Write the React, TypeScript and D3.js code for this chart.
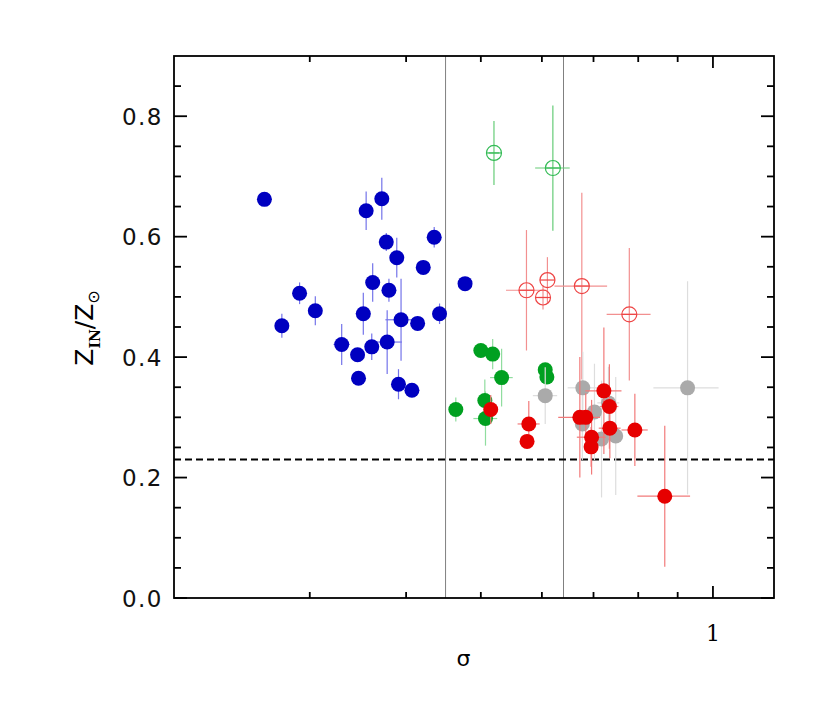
import React, { useEffect, useRef } from 'react';
import * as d3 from 'd3';

interface IPoint {
  sigma: number;
  z: number;
  zErr: number;
  sErr: number;
}

// [sigma, Z, zErr, sigmaErr]
const bluePoints = [
  [0.262, 0.662, 0.005, 0],
  [0.355, 0.643, 0.032, 0],
  [0.372, 0.663, 0.035, 0],
  [0.377, 0.591, 0.015, 0],
  [0.389, 0.565, 0.033, 0],
  [0.435, 0.599, 0.017, 0],
  [0.421, 0.549, 0.005, 0],
  [0.477, 0.522, 0.005, 0],
  [0.362, 0.524, 0.032, 0],
  [0.38, 0.511, 0.019, 0],
  [0.291, 0.506, 0.018, 0],
  [0.305, 0.477, 0.024, 0],
  [0.276, 0.452, 0.02, 0],
  [0.352, 0.472, 0.035, 0.008],
  [0.394, 0.462, 0.068, 0.018],
  [0.414, 0.456, 0.005, 0],
  [0.442, 0.472, 0.017, 0],
  [0.378, 0.425, 0.053, 0.017],
  [0.33, 0.421, 0.034, 0.008],
  [0.346, 0.404, 0.005, 0],
  [0.361, 0.417, 0.022, 0],
  [0.347, 0.365, 0.005, 0],
  [0.391, 0.355, 0.025, 0],
  [0.407, 0.345, 0.005, 0],
];

const greenPoints = [
  [0.5, 0.411, 0, 0],
  [0.518, 0.405, 0.025, 0],
  [0.532, 0.366, 0.048, 0.018],
  [0.606, 0.379, 0, 0],
  [0.609, 0.367, 0, 0],
  [0.464, 0.313, 0.02, 0],
  [0.506, 0.328, 0.035, 0],
  [0.507, 0.298, 0.045, 0.018],
];

const greenOpen = [
  [0.52, 0.739, 0.053, 0.008],
  [0.62, 0.714, 0.104, 0.032],
];

const redOpen = [
  [0.573, 0.511, 0.1, 0.034],
  [0.61, 0.528, 0.038, 0],
  [0.602, 0.499, 0.02, 0.008],
  [0.676, 0.518, 0.155, 0.053],
  [0.779, 0.471, 0.11, 0.051],
];

const grayPoints = [
  [0.606, 0.336, 0.047, 0.022],
  [0.678, 0.349, 0.06, 0.03],
  [0.927, 0.349, 0.177, 0.09],
  [0.702, 0.309, 0.08, 0],
  [0.732, 0.324, 0.06, 0.024],
  [0.677, 0.289, 0.06, 0],
  [0.717, 0.264, 0.097, 0],
  [0.748, 0.269, 0.098, 0],
];

const redPoints = [
  [0.515, 0.313, 0.024, 0],
  [0.577, 0.289, 0.038, 0.019],
  [0.574, 0.26, 0.01, 0],
  [0.722, 0.344, 0.105, 0.039],
  [0.734, 0.318, 0.07, 0.02],
  [0.672, 0.3, 0.1, 0.042],
  [0.684, 0.3, 0.04, 0],
  [0.735, 0.282, 0.05, 0.024],
  [0.792, 0.279, 0.06, 0.031],
  [0.696, 0.267, 0.062, 0.03],
  [0.695, 0.251, 0.033, 0],
  [0.866, 0.169, 0.117, 0.068],
];

const xMinorTicks = [0.3, 0.4, 0.5, 0.6, 0.7, 0.8, 0.9];
const xMajorTicks = [1];
const yMajorTicks = [0, 0.2, 0.4, 0.6, 0.8];
const yMinorTicks = [0.05, 0.1, 0.15, 0.25, 0.3, 0.35, 0.45, 0.5, 0.55, 0.65, 0.7, 0.75, 0.85];
const sigmaCuts = [0.45, 0.64];
const zDashed = 0.23;

const toPoints = (rows: number[][]): IPoint[] =>
  rows.map(([sigma, z, zErr, sErr]) => ({ sigma, z, zErr, sErr }));

const App = () => {
  const svgRef = useRef<SVGSVGElement>(null);

  useEffect(() => {
    document.body.style.margin = '0';
    drawChart(svgRef);
  }, [svgRef]);

  return <svg ref={svgRef} width={827} height={709} style={{ display: 'block' }}></svg>;
};

function drawChart(svgRef: React.RefObject<SVGSVGElement>) {
  const margin = { top: 56, right: 53, bottom: 111, left: 174 },
    width = 827 - margin.left - margin.right,
    height = 709 - margin.top - margin.bottom;

  const root = d3.select(svgRef.current);
  root.selectAll('*').remove();
  root.append('rect').attr('width', 827).attr('height', 709).attr('fill', 'white');

  const svg = root.append('g').attr('transform', 'translate(' + margin.left + ',' + margin.top + ')');

  const x = d3.scaleLog().domain([0.2, 1.2]).range([0, width]);
  const y = d3.scaleLinear().domain([0, 0.9]).range([height, 0]);

  // reference lines
  svg
    .selectAll('.cut')
    .data(sigmaCuts)
    .enter()
    .append('line')
    .attr('x1', (d) => x(d))
    .attr('x2', (d) => x(d))
    .attr('y1', 0)
    .attr('y2', height)
    .attr('stroke', '#808080')
    .attr('stroke-width', 1);

  svg
    .append('line')
    .attr('x1', 0)
    .attr('x2', width)
    .attr('y1', y(zDashed))
    .attr('y2', y(zDashed))
    .attr('stroke', 'black')
    .attr('stroke-width', 1.8)
    .attr('stroke-dasharray', '7,4');

  const drawErrors = (data: IPoint[], color: string) => {
    const g = svg.append('g').attr('stroke', color).attr('stroke-width', 1.2);
    data.forEach((d) => {
      if (d.zErr > 0) {
        g.append('line')
          .attr('x1', x(d.sigma))
          .attr('x2', x(d.sigma))
          .attr('y1', y(d.z - d.zErr))
          .attr('y2', y(d.z + d.zErr));
      }
      if (d.sErr > 0) {
        g.append('line')
          .attr('x1', x(d.sigma - d.sErr))
          .attr('x2', x(d.sigma + d.sErr))
          .attr('y1', y(d.z))
          .attr('y2', y(d.z));
      }
    });
  };

  const drawFilled = (data: IPoint[], color: string) => {
    svg
      .append('g')
      .selectAll('circle')
      .data(data)
      .enter()
      .append('circle')
      .attr('cx', (d) => x(d.sigma))
      .attr('cy', (d) => y(d.z))
      .attr('r', 7.5)
      .attr('fill', color);
  };

  const drawOpen = (data: IPoint[], color: string) => {
    const g = svg.append('g').attr('stroke', color).attr('stroke-width', 1.2).attr('fill', 'none');
    data.forEach((d) => {
      g.append('circle').attr('cx', x(d.sigma)).attr('cy', y(d.z)).attr('r', 7.5);
      g.append('line')
        .attr('x1', x(d.sigma) - 7.5)
        .attr('x2', x(d.sigma) + 7.5)
        .attr('y1', y(d.z))
        .attr('y2', y(d.z));
    });
  };

  const blue = toPoints(bluePoints);
  const green = toPoints(greenPoints);
  const gOpen = toPoints(greenOpen);
  const rOpen = toPoints(redOpen);
  const gray = toPoints(grayPoints);
  const red = toPoints(redPoints);

  drawErrors(blue, '#7474ea');
  drawFilled(blue, '#0000c0');
  drawErrors(gOpen, '#66cc77');
  drawOpen(gOpen, '#33bb55');
  drawErrors(rOpen, '#f29090');
  drawOpen(rOpen, '#ee4444');
  drawErrors(green, '#90dd9f');
  drawFilled(green, '#00a020');
  drawErrors(gray, '#dddddd');
  drawFilled(gray, '#aaaaaa');
  drawErrors(red, '#f27a7a');
  drawFilled(red, '#e60000');

  // frame
  svg
    .append('rect')
    .attr('width', width)
    .attr('height', height)
    .attr('fill', 'none')
    .attr('stroke', 'black')
    .attr('stroke-width', 1.8);

  const axes = svg.append('g').attr('stroke', 'black').attr('stroke-width', 1.8);
  const xTick = (v: number, len: number) => {
    axes.append('line').attr('x1', x(v)).attr('x2', x(v)).attr('y1', height).attr('y2', height - len);
    axes.append('line').attr('x1', x(v)).attr('x2', x(v)).attr('y1', 0).attr('y2', len);
  };
  xMinorTicks.forEach((v) => xTick(v, 6));
  xMajorTicks.forEach((v) => xTick(v, 12));
  const yTick = (v: number, len: number) => {
    axes.append('line').attr('x1', 0).attr('x2', len).attr('y1', y(v)).attr('y2', y(v));
    axes.append('line').attr('x1', width).attr('x2', width - len).attr('y1', y(v)).attr('y2', y(v));
  };
  yMajorTicks.forEach((v) => yTick(v, 13));
  yMinorTicks.forEach((v) => yTick(v, 7));

  svg
    .selectAll('.ylab')
    .data(yMajorTicks)
    .enter()
    .append('text')
    .attr('x', -11)
    .attr('y', (d) => y(d) + 8.5)
    .attr('text-anchor', 'end')
    .style('font-family', 'DejaVu Sans, sans-serif')
    .style('font-size', '23px')
    .style('letter-spacing', '1.5px')
    .style('fill', '#111')
    .text((d) => d.toFixed(1));

  svg
    .selectAll('.xlab')
    .data(xMajorTicks)
    .enter()
    .append('text')
    .attr('x', (d) => x(d))
    .attr('y', height + 43)
    .attr('text-anchor', 'middle')
    .style('font-family', 'DejaVu Serif, serif')
    .style('font-size', '22px')
    .text((d) => String(d));

  svg
    .append('text')
    .attr('x', x(0.45) + 18)
    .attr('y', height + 68)
    .attr('text-anchor', 'middle')
    .style('font-family', 'DejaVu Sans, sans-serif')
    .style('font-size', '22px')
    .text('σ');

  const ylab = svg
    .append('text')
    .attr('transform', 'translate(' + -81 + ',' + (y(0.45) + 1) + ') rotate(-90)')
    .attr('text-anchor', 'middle')
    .style('font-family', 'DejaVu Sans, sans-serif')
    .style('font-size', '25px');
  ylab.append('tspan').text('Z');
  ylab
    .append('tspan')
    .attr('dy', 7)
    .style('font-size', '14px')
    .style('font-family', 'DejaVu Serif, serif')
    .style('font-weight', 'bold')
    .text('IN');
  ylab.append('tspan').attr('dy', -7).text('/Z');
  ylab.append('tspan').attr('dy', 6).style('font-size', '16px').text('⊙');
}

export default App;
